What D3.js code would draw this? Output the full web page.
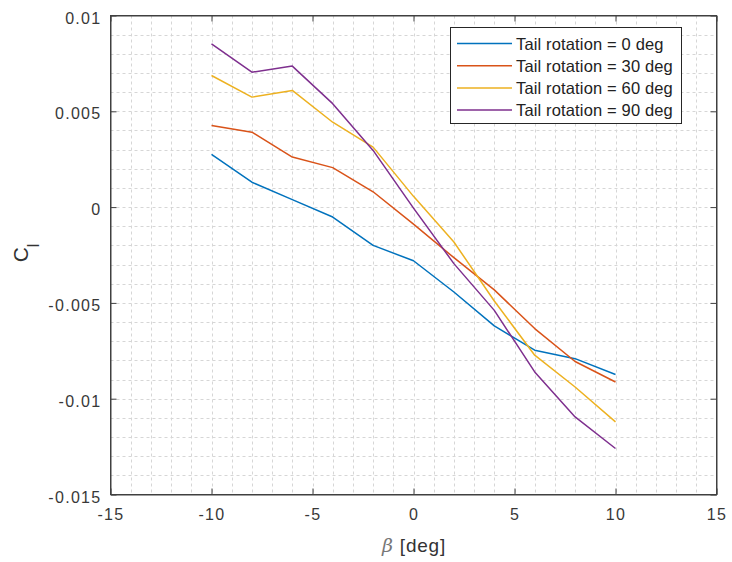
<!DOCTYPE html>
<html>
<head>
<meta charset="utf-8">
<script src="https://cdn.jsdelivr.net/npm/d3@7"></script>
<style>
  html, body { margin: 0; padding: 0; background: #fff; }
  svg { display: block; font-family: "Liberation Sans", Arial, sans-serif; }
</style>
</head>
<body>
<svg id="chart" width="732" height="562"></svg>
<script>
// ---- data ----
const beta = [-10, -8, -6, -4, -2, 0, 2, 4, 6, 8, 10];
const seriesNames = ["Tail rotation = 0 deg", "Tail rotation = 30 deg", "Tail rotation = 60 deg", "Tail rotation = 90 deg"];
const cl0  = [0.00275, 0.0013, 0.00039, -0.00052, -0.0020, -0.00280, -0.00443, -0.00620, -0.00747, -0.00791, -0.00874];
const cl30 = [0.00426, 0.00391, 0.00261, 0.00206, 0.00080, -0.00089, -0.00264, -0.00432, -0.00634, -0.00806, -0.00913];
const cl60 = [0.00687, 0.00574, 0.00609, 0.00443, 0.00313, 0.00056, -0.00182, -0.00490, -0.00773, -0.00939, -0.01121];
const cl90 = [0.00852, 0.00704, 0.00736, 0.00540, 0.00296, -0.00005, -0.00295, -0.00539, -0.00860, -0.01095, -0.01260];
const xTicks = [-15, -10, -5, 0, 5, 10, 15];
const xTickLabels = ["-15", "-10", "-5", "0", "5", "10", "15"];
const yTicks = [0.01, 0.005, 0, -0.005, -0.01, -0.015];
const yTickLabels = ["0.01", "0.005", "0", "-0.005", "-0.01", "-0.015"];
const colors = ["#0072BD", "#D95319", "#EDB120", "#7E2F8E"];

const allSeries = [cl0, cl30, cl60, cl90];

// ---- layout ----
const svg = d3.select("#chart");
const L = 110.5, R = 716.5, T = 15.5, B = 494.5;
const x = d3.scaleLinear().domain([-15, 15]).range([L, R]);
const y = d3.scaleLinear().domain([-0.015, 0.01]).range([B, T]);

// grid (minor + major)
const gx = d3.range(-15, 15.001, 1);
const gy = d3.range(-0.015, 0.01001, 0.001);
const grid = svg.append("g").attr("stroke", "#d6d6d6").attr("stroke-width", 1).attr("stroke-dasharray", "3,3");
grid.selectAll("line.gx").data(gx.slice(1, -1)).join("line")
  .attr("x1", d => Math.round(x(d)) + 0.5).attr("x2", d => Math.round(x(d)) + 0.5)
  .attr("y1", T).attr("y2", B);
grid.selectAll("line.gy").data(gy.slice(1, -1)).join("line")
  .attr("y1", d => Math.round(y(d)) + 0.5).attr("y2", d => Math.round(y(d)) + 0.5)
  .attr("x1", L).attr("x2", R);

// axes
const axColor = "#404040";
const tl = 6;
const xAxisB = svg.append("g").attr("transform", `translate(0,${B})`)
  .call(d3.axisBottom(x).tickValues(xTicks).tickSizeInner(-tl).tickSizeOuter(0).tickPadding(14)
    .tickFormat((d, i) => xTickLabels[i]));
const xAxisT = svg.append("g").attr("transform", `translate(0,${T})`)
  .call(d3.axisTop(x).tickValues(xTicks).tickSizeInner(-tl).tickSizeOuter(0).tickFormat(""));
const yAxisL = svg.append("g").attr("transform", `translate(${L},0)`)
  .call(d3.axisLeft(y).tickValues(yTicks).tickSizeInner(-tl).tickSizeOuter(0).tickPadding(9)
    .tickFormat((d, i) => yTickLabels[i]));
const yAxisR = svg.append("g").attr("transform", `translate(${R},0)`)
  .call(d3.axisRight(y).tickValues(yTicks).tickSizeInner(-tl).tickSizeOuter(0).tickFormat(""));
[xAxisB, xAxisT, yAxisL, yAxisR].forEach(g => {
  g.select(".domain").attr("stroke", axColor);
  g.selectAll(".tick line").attr("stroke", axColor);
  g.selectAll(".tick text").attr("fill", "#383838").style("font-size", "16px")
    .style("letter-spacing", "1.3px")
    .style("font-family", '"Liberation Sans", Arial, sans-serif');
});
yAxisL.selectAll(".tick text").attr("dy", "0.48em");

// lines
const line = d3.line().x((d, i) => x(beta[i])).y(d => y(d));
svg.append("g").selectAll("path").data(allSeries).join("path")
  .attr("d", d => line(d)).attr("fill", "none")
  .attr("stroke", (d, i) => colors[i]).attr("stroke-width", 1.5)
  .attr("stroke-linejoin", "round");

// frame redraw on top
svg.append("rect").attr("x", L).attr("y", T).attr("width", R - L).attr("height", B - T)
  .attr("fill", "none").attr("stroke", axColor);

// legend
const lg = svg.append("g");
lg.append("rect").attr("x", 450.5).attr("y", 27.5).attr("width", 231).attr("height", 96)
  .attr("fill", "#fff").attr("stroke", "#262626");
seriesNames.forEach((name, i) => {
  const yy = 43.5 + i * 22.2;
  lg.append("line").attr("x1", 457).attr("x2", 512).attr("y1", yy).attr("y2", yy)
    .attr("stroke", colors[i]).attr("stroke-width", 1.5);
  lg.append("text").attr("x", 516).attr("y", yy).attr("dy", "0.37em")
    .attr("fill", "#222").style("font-size", "16.5px").style("letter-spacing", "0.15px").text(name);
});

// axis labels
const xl = svg.append("text").attr("x", 414).attr("y", 552).attr("text-anchor", "middle")
  .attr("fill", "#333").style("font-size", "19px").style("letter-spacing", "0.8px");
xl.append("tspan").attr("font-family", '"DejaVu Serif", serif').attr("font-style", "italic")
  .attr("fill", "#777").text("β");
xl.append("tspan").text(" [deg]");

const yl = svg.append("text").attr("transform", "translate(28,253) rotate(-90)")
  .attr("text-anchor", "middle").attr("fill", "#333").style("font-size", "21px");
yl.append("tspan").text("C");
yl.append("tspan").attr("dy", "11").style("font-size", "16px").text("l");
</script>
</body>
</html>
